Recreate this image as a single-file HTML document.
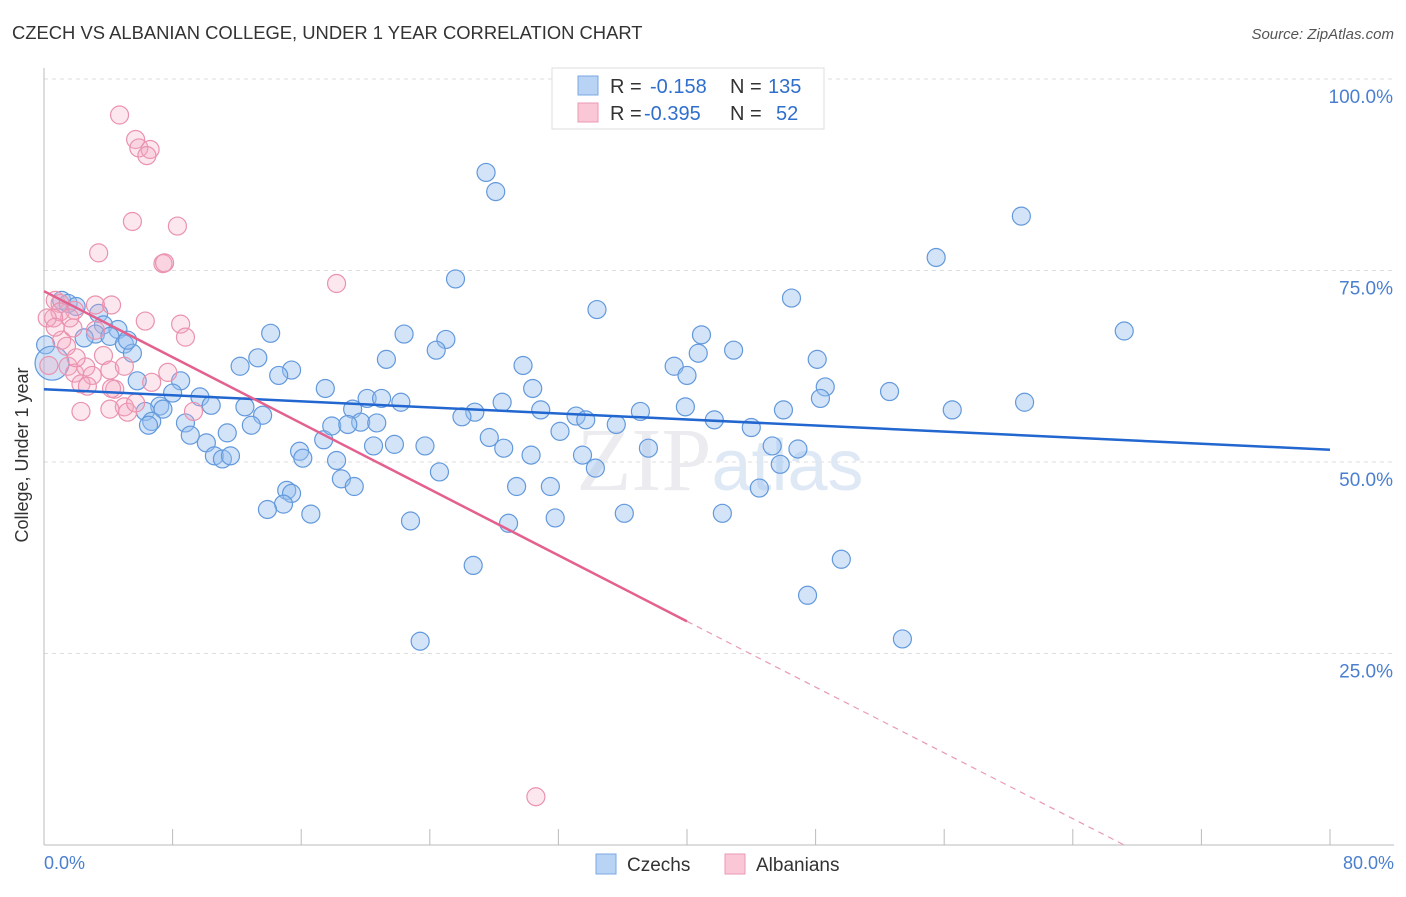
<!DOCTYPE html>
<html><head><meta charset="utf-8"><style>
body{margin:0;background:#fff;font-family:"Liberation Sans",sans-serif;}
</style></head><body>
<svg id="chart" width="1406" height="892" xmlns="http://www.w3.org/2000/svg">
<text x="12" y="39" font-size="18.4" fill="#333">CZECH VS ALBANIAN COLLEGE, UNDER 1 YEAR CORRELATION CHART</text>
<text x="1394" y="39" font-size="15" fill="#555" font-style="italic" text-anchor="end">Source: ZipAtlas.com</text>
<g id="grid"></g>
<text x="720" y="490" font-size="90" fill="#ebebf0" text-anchor="middle" font-family="Liberation Serif,serif">ZIP<tspan font-family="Liberation Sans,sans-serif" font-size="72" fill="#dfe9f6">atlas</tspan></text>
<g id="axes"></g>
<g id="pts"></g>
<g id="trend"></g>
<text x="28" y="455" font-size="18" fill="#333" text-anchor="middle" transform="rotate(-90 28 455)">College, Under 1 year</text>
<text x="44" y="869" font-size="18" fill="#4a7fd0">0.0%</text>
<text x="1394" y="869" font-size="18" fill="#4a7fd0" text-anchor="end">80.0%</text>
<g>
<rect x="552" y="68" width="272" height="61" fill="#fff" stroke="#ddd"/>
<rect x="578" y="76" width="20" height="19" fill="#b8d3f4" stroke="#7aa8e4"/>
<rect x="578" y="103" width="20" height="19" fill="#f9c7d6" stroke="#ec9ab4"/>
<text x="610" y="93" font-size="20" fill="#333">R = <tspan fill="#2f6fcc" x="650">-0.158</tspan><tspan x="730" fill="#333">N = </tspan><tspan fill="#2f6fcc" x="768">135</tspan></text>
<text x="610" y="120" font-size="20" fill="#333">R = <tspan fill="#2f6fcc" x="644">-0.395</tspan><tspan x="730" fill="#333">N = </tspan><tspan fill="#2f6fcc" x="776">52</tspan></text>
</g>
<g>
<rect x="596" y="854" width="20" height="20" fill="#b8d3f4" stroke="#7aa8e4"/>
<text x="627" y="871" font-size="19" fill="#333">Czechs</text>
<rect x="725" y="854" width="20" height="20" fill="#f9c7d6" stroke="#ec9ab4"/>
<text x="756" y="871" font-size="19" fill="#333">Albanians</text>
</g>
</svg>
<script>
const czechX=[27.5,28.1,60.8,55.5,25.6,46.5,34.4,67.2,14.1,22.4,25.0,24.4,21.3,40.9,42.9,40.7,39.2,40.0,48.1,29.8,15.4,14.6,13.3,12.2,48.6,30.4,17.5,52.6,48.3,8.5,5.8,8.0,9.7,10.4,7.2,7.4,6.3,8.8,6.7,6.5,9.1,10.1,11.4,12.5,13.6,12.9,10.6,11.1,11.6,15.9,16.1,17.4,17.9,19.2,19.7,20.7,20.1,21.0,22.2,18.9,20.5,21.8,23.7,18.2,18.5,19.3,15.1,15.4,14.9,13.9,16.6,24.6,22.8,26.8,26.0,27.7,28.5,30.9,28.6,30.3,29.4,31.5,32.1,33.1,33.7,31.8,28.9,26.7,23.4,34.3,33.5,35.6,37.1,37.6,39.9,41.7,44.0,45.3,46.0,45.8,46.9,44.5,42.2,36.1,49.6,47.5,53.4,56.5,61.0,1.1,1.5,2.0,3.4,3.7,4.6,3.2,4.1,2.5,5.0,5.5,5.2,0.1];
const czechY=[87.8,85.3,82.1,76.7,73.9,71.4,69.9,67.1,66.8,66.7,66.0,64.6,63.4,66.6,64.6,64.2,62.5,61.3,63.4,62.6,62.0,61.3,63.6,62.5,59.8,59.6,59.6,59.2,58.3,60.6,60.6,59.0,58.5,57.4,57.3,56.9,56.6,55.1,55.3,54.8,53.5,52.5,53.8,57.2,56.1,54.8,50.8,50.4,50.8,51.4,50.5,52.9,54.7,56.9,55.2,55.1,58.3,58.3,57.8,54.9,52.1,52.3,52.1,50.2,47.8,46.8,46.3,45.9,44.5,43.8,43.2,48.7,42.3,56.5,55.9,53.2,57.8,56.8,51.8,50.9,46.8,46.8,54.0,56.0,55.5,42.7,42.0,36.5,26.6,49.2,50.9,54.9,56.6,51.8,57.2,55.5,54.5,52.1,56.8,49.7,51.7,46.6,43.3,43.3,37.3,32.6,26.9,56.8,57.8,71.1,70.7,70.3,69.4,67.9,67.3,66.7,66.4,66.2,65.4,64.2,65.9,65.3];
const albX=[4.7,5.7,5.9,6.6,6.4,5.5,8.3,3.4,7.4,7.5,18.2,0.7,1.0,3.2,4.2,1.9,3.2,6.3,8.5,8.8,1.0,1.6,0.6,0.2,1.1,1.4,1.8,0.7,1.5,1.9,3.7,2.6,3.0,4.1,5.0,4.4,2.3,5.0,6.7,7.7,4.2,2.3,4.1,5.2,5.7,9.3,30.6,0.3,2.7,2.0];
const albY=[95.3,92.1,91.0,90.8,90.0,81.4,80.8,77.3,75.9,76.0,73.3,71.1,70.7,70.5,70.5,69.8,67.2,68.4,68.0,66.3,69.6,68.8,68.8,68.8,65.9,65.1,67.5,67.6,62.5,61.6,63.9,62.4,61.3,62.0,62.5,59.5,60.2,57.2,60.4,61.7,59.6,56.6,56.9,56.5,57.7,56.6,6.3,62.6,59.9,63.6];
const yTicks=[25,50,75,100];
const yTickLabels=["25.0%","50.0%","75.0%","100.0%"];
const xTicks=[8,16,24,32,40,48,56,64,72,80];
const czechTrend=[[0,59.5],[80,51.6]];
const albTrendSolid=[[0,72.3],[40.0,29.2]];
const albTrendDash=[[40.0,29.2],[67.2,0]];

const NS="http://www.w3.org/2000/svg";
const X=v=>44+v*(1286/80);
const Y=v=>845-v*7.66;
function mk(tag,attrs,parent){const e=document.createElementNS(NS,tag);for(const k in attrs)e.setAttribute(k,attrs[k]);parent.appendChild(e);return e;}
const grid=document.getElementById('grid'),axes=document.getElementById('axes'),pts=document.getElementById('pts'),trend=document.getElementById('trend');
yTicks.forEach((t,i)=>{
 const l=mk('line',{x1:44,x2:1394,y1:Y(t),y2:Y(t),stroke:'#ddd','stroke-dasharray':'4,4'},grid);
 
 
 const tx=mk('text',{x:1393,y:Y(t)+24,'font-size':19,fill:'#4a7fd0','text-anchor':'end'},axes);
 tx.textContent=yTickLabels[i];
 
 
});
const ax=mk('line',{x1:44,x2:44,y1:68,y2:845,stroke:'#bbb'},axes);


const bx=mk('line',{x1:44,x2:1394,y1:845,y2:845,stroke:'#bbb'},axes);


xTicks.forEach(t=>{
 const l=mk('line',{x1:X(t),x2:X(t),y1:829,y2:845,stroke:'#bbb'},axes);
 
 
});
czechX.forEach((x,i)=>{
 const c=mk('circle',{cx:X(x),cy:Y(czechY[i]),r:9,fill:'rgba(150,190,238,0.42)',stroke:'#6399dc','stroke-width':1.2},pts);
 
 
});
const big=mk('circle',{cx:X(0.5),cy:Y(62.9),r:17,fill:'rgba(150,190,238,0.42)',stroke:'#6399dc','stroke-width':1.2},pts);


albX.forEach((x,i)=>{
 const c=mk('circle',{cx:X(x),cy:Y(albY[i]),r:9,fill:'rgba(244,170,195,0.28)',stroke:'#ea92ae','stroke-width':1.2},pts);
 
 
});
const t1=mk('line',{x1:X(czechTrend[0][0]),y1:Y(czechTrend[0][1]),x2:X(czechTrend[1][0]),y2:Y(czechTrend[1][1]),stroke:'#2266d0','stroke-width':2.5},trend);


const t2=mk('line',{x1:X(albTrendSolid[0][0]),y1:Y(albTrendSolid[0][1]),x2:X(albTrendSolid[1][0]),y2:Y(albTrendSolid[1][1]),stroke:'#e4608e','stroke-width':2.5},trend);


const t3=mk('line',{x1:X(albTrendDash[0][0]),y1:Y(albTrendDash[0][1]),x2:X(albTrendDash[1][0]),y2:Y(albTrendDash[1][1]),stroke:'#e899b4','stroke-width':1.2,'stroke-dasharray':'6,5'},trend);


</script>
</body></html>
